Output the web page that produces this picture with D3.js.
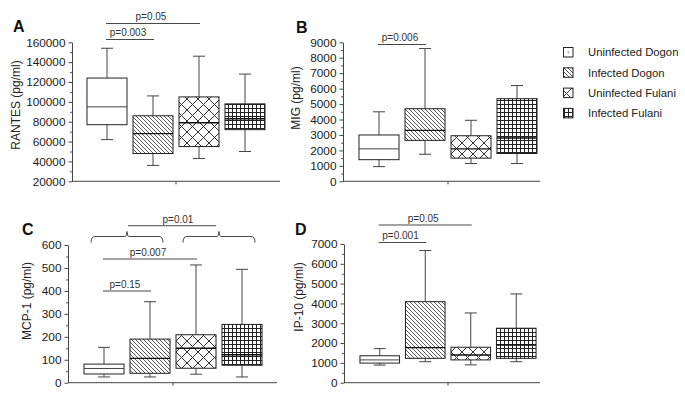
<!DOCTYPE html>
<html>
<head>
<meta charset="utf-8">
<script src="https://cdn.jsdelivr.net/npm/d3@7"></script>
<style>
  html, body { margin: 0; padding: 0; background: #fff; }
  svg { display: block; font-family: "Liberation Sans", Arial, sans-serif; }
</style>
</head>
<body>
<svg id="chart" width="685" height="400"></svg>
<script>
// ---------- DATA ----------
const groups = ["Uninfected Dogon", "Infected Dogon", "Uninfected Fulani", "Infected Fulani"];
// five-number summaries per group: [min, q1, median, q3, max]
const rantesStats = [
  [62000, 77000, 95000, 124000, 154000],
  [36000, 48000, 68000, 86000, 106000],
  [43000, 55000, 79000, 105000, 146000],
  [50000, 72000, 83000, 98000, 128000]
];
const migStats = [
  [950, 1400, 2100, 3000, 4500],
  [1750, 2650, 3300, 4700, 8600],
  [1150, 1500, 2100, 2950, 3950],
  [1150, 1800, 2800, 5350, 6200]
];
const mcpStats = [
  [25, 38, 62, 81, 154],
  [25, 41, 106, 190, 353],
  [37, 63, 150, 209, 513],
  [25, 76, 122, 254, 494]
];
const ipStats = [
  [890, 990, 1150, 1360, 1720],
  [1060, 1230, 1770, 4090, 6670],
  [900, 1150, 1400, 1790, 3520],
  [1060, 1230, 1900, 2750, 4480]
];
const rantesTicks = [20000, 40000, 60000, 80000, 100000, 120000, 140000, 160000];
const migTicks = [0, 1000, 2000, 3000, 4000, 5000, 6000, 7000, 8000, 9000];
const mcpTicks = [0, 100, 200, 300, 400, 500, 600];
const ipTicks = [0, 1000, 2000, 3000, 4000, 5000, 6000, 7000];
// pairwise comparisons: [fromGroup, toGroup, label]
const rantesComparisons = [[0, 2, "p=0.05"], [0, 1, "p=0.003"]];
const migComparisons = [[0, 1, "p=0.006"]];
const mcpComparisons = [[0, 2, "p=0.007"], [0, 1, "p=0.15"]];
const ipComparisons = [[0, 2, "p=0.05"], [0, 1, "p=0.001"]];
// grouped (bracket) comparison in panel C: Dogon (0,1) vs Fulani (2,3)
const mcpGroupComparison = [[0, 1], [2, 3], "p=0.01"];

// ---------- SVG / PATTERNS ----------
const svg = d3.select("#chart");
const defs = svg.append("defs");

const pHatch = defs.append("pattern").attr("id", "hatch")
  .attr("patternUnits", "userSpaceOnUse").attr("width", 4).attr("height", 4);
pHatch.append("rect").attr("width", 4).attr("height", 4).attr("fill", "#fff");
pHatch.append("path").attr("d", "M-1,-1 L5,5 M-1,3 L1,5 M3,-1 L5,1")
  .attr("stroke", "#333").attr("stroke-width", 0.8);

const pCross = defs.append("pattern").attr("id", "cross")
  .attr("patternUnits", "userSpaceOnUse").attr("width", 11).attr("height", 11);
pCross.append("rect").attr("width", 11).attr("height", 11).attr("fill", "#fff");
pCross.append("path").attr("d", "M0,0 L11,11 M11,0 L0,11")
  .attr("stroke", "#333").attr("stroke-width", 1);

const pGrid = defs.append("pattern").attr("id", "grid")
  .attr("patternUnits", "userSpaceOnUse").attr("width", 4).attr("height", 4);
pGrid.append("rect").attr("width", 4).attr("height", 4).attr("fill", "#fff");
pGrid.append("path").attr("d", "M0,0.5 H4 M0.5,0 V4")
  .attr("stroke", "#222").attr("stroke-width", 1);

const fills = ["#fff", "url(#hatch)", "url(#cross)", "url(#grid)"];

// ---------- PANEL LAYOUT ----------
const panels = [
  { stats: rantesStats, ticks: rantesTicks, minorStep: 10000, comps: rantesComparisons,
    letter: "A", label: "RANTES (pg/ml)",
    x0: 72, x1: 280, band: [84, 268], yTop: 42.3, yBot: 181.3,
    letterX: 13, letterY: 32, labelX: 20, labelY: 105,
    compY: [23.5, 39.5] },
  { stats: migStats, ticks: migTicks, minorStep: 500, comps: migComparisons,
    letter: "B", label: "MIG (pg/ml)",
    x0: 343, x1: 540, band: [356, 540], yTop: 42.3, yBot: 181.3,
    letterX: 296, letterY: 32.5, labelX: 300, labelY: 98,
    compY: [44.5] },
  { stats: mcpStats, ticks: mcpTicks, minorStep: 50, comps: mcpComparisons,
    letter: "C", label: "MCP-1 (pg/ml)",
    x0: 68, x1: 277, band: [81, 265], yTop: 245, yBot: 382.7,
    letterX: 22, letterY: 234.5, labelX: 30.5, labelY: 301,
    compY: [259, 291] },
  { stats: ipStats, ticks: ipTicks, minorStep: 500, comps: ipComparisons,
    letter: "D", label: "IP-10 (pg/ml)",
    x0: 344, x1: 540, band: [357, 539], yTop: 244, yBot: 382.7,
    letterX: 295, letterY: 234.5, labelX: 303, labelY: 297,
    compY: [225, 242.5] }
];

const ink = "#222";

panels.forEach((p) => {
  const g = svg.append("g");
  const ext = d3.extent(p.ticks);
  const y = d3.scaleLinear().domain(ext).range([p.yBot, p.yTop]);
  const x = d3.scaleBand().domain(d3.range(groups.length)).range(p.band)
    .paddingInner(0.13).paddingOuter(0.065);
  const cx = i => x(i) + x.bandwidth() / 2;

  // minor ticks
  const minor = d3.range(ext[0], ext[1] + 1e-9, p.minorStep).filter(v => !p.ticks.includes(v));
  g.append("g").attr("transform", `translate(${p.x0},0)`)
    .call(d3.axisLeft(y).tickValues(minor).tickSize(2).tickSizeOuter(0).tickFormat(""))
    .call(a => a.select(".domain").remove())
    .call(a => a.selectAll("line").attr("stroke", "#555"));

  // major axis
  g.append("g").attr("transform", `translate(${p.x0},0)`)
    .call(d3.axisLeft(y).tickValues(p.ticks).tickSize(3.5).tickPadding(3).tickSizeOuter(0)
      .tickFormat(d3.format("d")))
    .call(a => a.select(".domain").attr("stroke", "#444"))
    .call(a => a.selectAll("line").attr("stroke", "#444"))
    .call(a => a.selectAll("text").attr("fill", "#1a1a1a").style("font-size", "11.8px")
      .style("font-family", "Liberation Sans, Arial, sans-serif"));

  // x axis line with middle tick
  g.append("line").attr("x1", p.x0).attr("x2", p.x1).attr("y1", p.yBot).attr("y2", p.yBot)
    .attr("stroke", "#444").attr("stroke-width", 1);
  const mid = (cx(1) + cx(2)) / 2;
  g.append("line").attr("x1", mid).attr("x2", mid).attr("y1", p.yBot).attr("y2", p.yBot + 3)
    .attr("stroke", "#444");

  // boxes
  const capW = 12;
  p.stats.forEach((s, i) => {
    const c = cx(i);
    const bw = x.bandwidth();
    const [mn, q1, md, q3, mx] = s;
    const wg = g.append("g");
    wg.append("line").attr("x1", c).attr("x2", c).attr("y1", y(q3)).attr("y2", y(mx))
      .attr("stroke", "#444");
    wg.append("line").attr("x1", c).attr("x2", c).attr("y1", y(q1)).attr("y2", y(mn))
      .attr("stroke", "#444");
    wg.append("line").attr("x1", c - capW / 2).attr("x2", c + capW / 2).attr("y1", y(mx)).attr("y2", y(mx))
      .attr("stroke", "#444");
    wg.append("line").attr("x1", c - capW / 2).attr("x2", c + capW / 2).attr("y1", y(mn)).attr("y2", y(mn))
      .attr("stroke", "#444");
    wg.append("rect").attr("x", x(i)).attr("width", bw)
      .attr("y", y(q3)).attr("height", y(q1) - y(q3))
      .attr("fill", fills[i]).attr("stroke", ink).attr("stroke-width", 1);
    wg.append("line").attr("x1", x(i)).attr("x2", x(i) + bw).attr("y1", y(md)).attr("y2", y(md))
      .attr("stroke", i === 0 ? "#444" : "#111").attr("stroke-width", i === 0 ? 1 : 1.4);
  });

  // comparisons
  p.comps.forEach((cmp, k) => {
    const [a, b, lab] = cmp;
    const ly = p.compY[k];
    const xa = cx(a) - 1, xb = cx(b) + 1;
    g.append("line").attr("x1", xa).attr("x2", xb).attr("y1", ly).attr("y2", ly)
      .attr("stroke", "#333").attr("stroke-width", 0.9);
    g.append("text").attr("x", (xa + xb) / 2 - 2).attr("y", ly - 3.5)
      .attr("text-anchor", "middle").attr("fill", "#333").style("font-size", "10px").text(lab);
  });

  // bracket comparison (panel C)
  if (p.letter === "C") {
    const [ga, gb, lab] = mcpGroupComparison;
    const baseY = 242.5, barY = 236.5, peakY = 231.5, topY = 225.7;
    const peaks = [];
    [ga, gb].forEach(pair => {
      const m = (cx(pair[0]) + cx(pair[1])) / 2;
      const l = m - 36, r = m + 36;
      peaks.push(m);
      g.append("path")
        .attr("d", `M${l},${baseY} Q${l},${barY} ${l + 4},${barY} L${m - 2},${barY} Q${m},${barY} ${m},${peakY} Q${m},${barY} ${m + 2},${barY} L${r - 4},${barY} Q${r},${barY} ${r},${baseY}`)
        .attr("fill", "none").attr("stroke", "#333").attr("stroke-width", 0.9);
    });
    g.append("line").attr("x1", peaks[0] + 1).attr("x2", peaks[1] - 3).attr("y1", topY).attr("y2", topY)
      .attr("stroke", "#333").attr("stroke-width", 0.9);
    g.append("text").attr("x", (peaks[0] + peaks[1]) / 2 + 5).attr("y", topY - 3)
      .attr("text-anchor", "middle").attr("fill", "#333").style("font-size", "10px").text(lab);
  }

  // panel letter
  g.append("text").attr("x", p.letterX).attr("y", p.letterY)
    .style("font-size", "16px").style("font-weight", "bold").attr("fill", "#111").text(p.letter);

  // y label
  g.append("text").attr("transform", `translate(${p.labelX},${p.labelY}) rotate(-90)`)
    .attr("text-anchor", "middle").attr("fill", ink).style("font-size", "12px").text(p.label);
});

// ---------- LEGEND ----------
const leg = svg.append("g");
groups.forEach((name, i) => {
  const ty = 47.5 + i * 20.3;
  leg.append("rect").attr("x", 563.5).attr("y", ty).attr("width", 9.5).attr("height", 9.5)
    .attr("fill", fills[i]).attr("stroke", ink).attr("stroke-width", 1);
  if (i === 0) {
    leg.append("circle").attr("cx", 568.2).attr("cy", ty + 4.7).attr("r", 0.6).attr("fill", "#333");
  }
  leg.append("text").attr("x", 588).attr("y", ty + 8.7).attr("fill", ink)
    .style("font-size", "11.3px").text(name);
});
</script>
</body>
</html>
